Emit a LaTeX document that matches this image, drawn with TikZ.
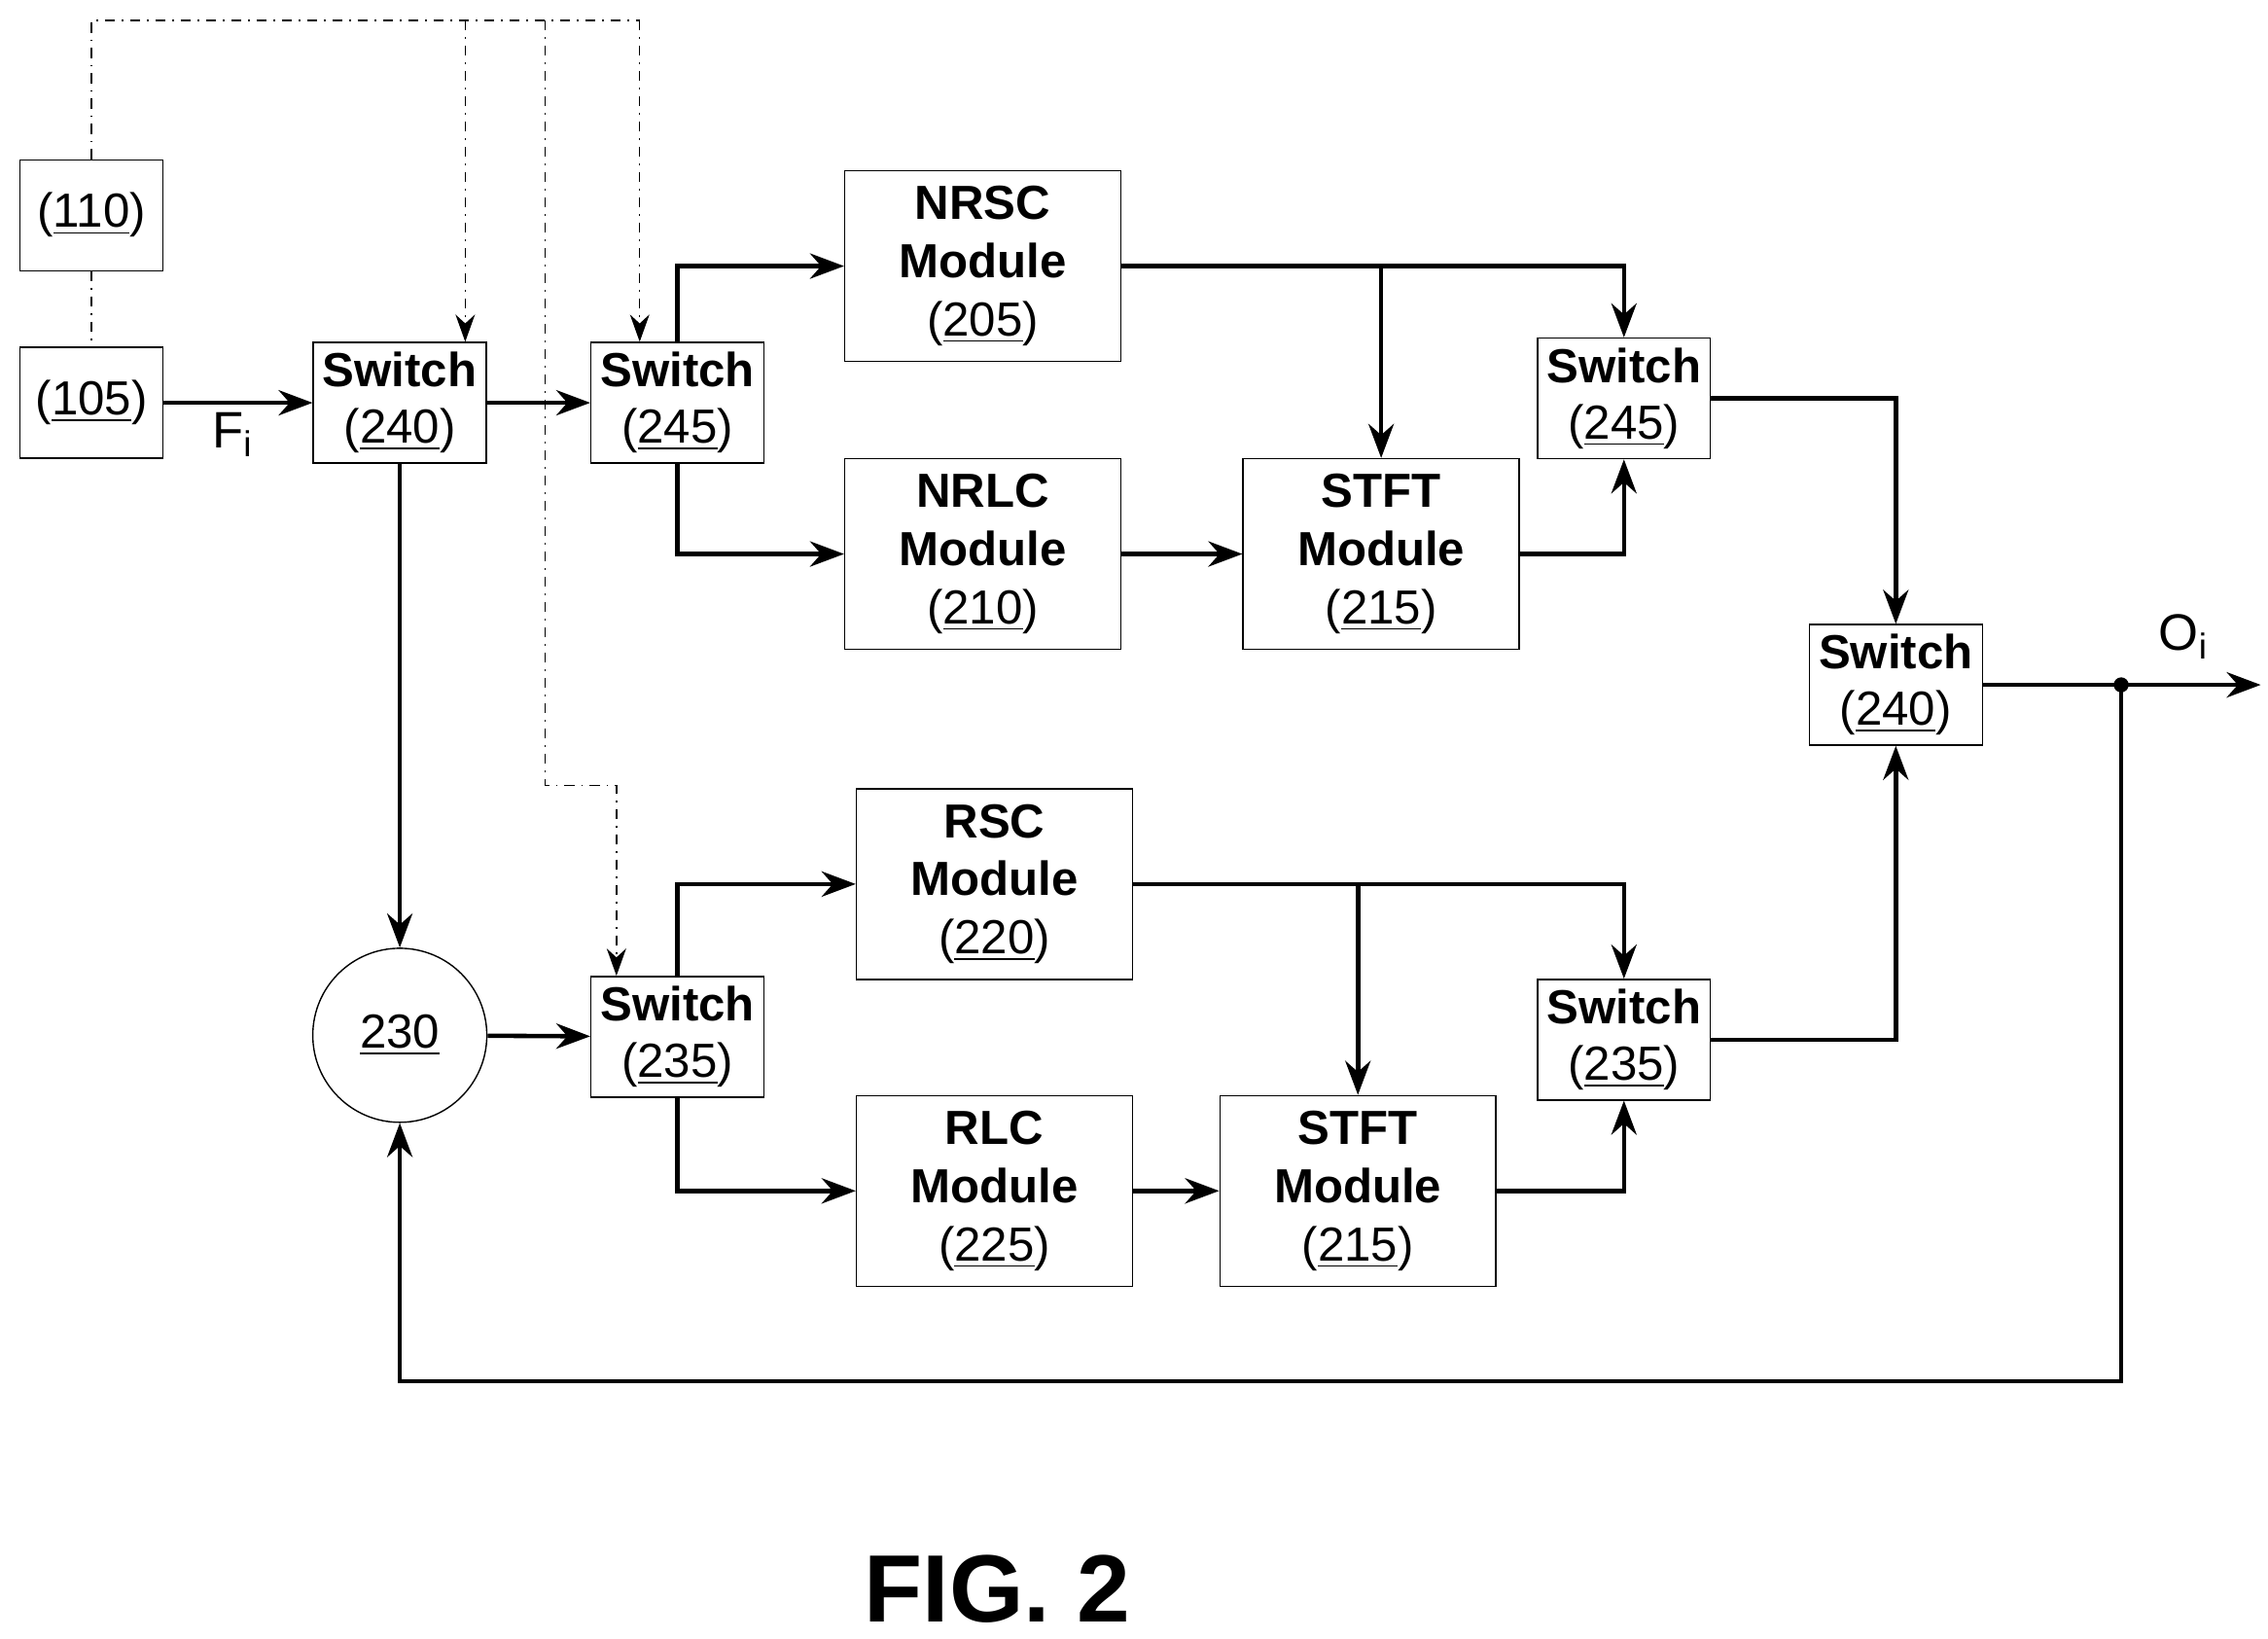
\documentclass[tikz,border=0pt]{standalone}
\usepackage{fontspec}
\setmainfont{Liberation Sans}
\usetikzlibrary{arrows.meta, calc}
\tikzstyle{switch} = [rectangle, draw=black, thin, minimum width=1.78cm, minimum height=1.24cm, inner sep=0pt, align=center, font=\fontsize{14}{16.5}\selectfont]
\tikzstyle{module} = [rectangle, draw=black, thin, minimum width=2.84cm, minimum height=1.96cm, inner sep=0pt, align=center, font=\fontsize{14}{17}\selectfont]
\tikzstyle{src} = [rectangle, draw=black, thin, minimum width=1.47cm, minimum height=1.14cm, inner sep=0pt, font=\fontsize{14}{16}\selectfont]
\tikzstyle{arrow} = [line width=1.3pt, -{Stealth[length=3.5mm, width=2.6mm]}]
\tikzstyle{line} = [line width=1.3pt]
\tikzstyle{ctrl} = [thin, dash dot]
\tikzstyle{carrow} = [thin, dash dot, -{Stealth[length=2.8mm, width=2mm]}]
\begin{document}
\begin{tikzpicture}[x=0.01495cm, y=-0.01495cm]
    \useasboundingbox (0,0) rectangle (1560,1127);
    \node (src110) [src] at (63,148) {(\underline{110})};
    \node (src105) [src] at (63,277) {(\underline{105})};
    \node (sw240a) [switch] at (275,277) {\textbf{Switch}\\(\underline{240})};
    \node (sw245a) [switch] at (466,277) {\textbf{Switch}\\(\underline{245})};
    \node (nrsc) [module] at (676,183) {\textbf{NRSC}\\\textbf{Module}\\(\underline{205})};
    \node (nrlc) [module] at (676,381) {\textbf{NRLC}\\\textbf{Module}\\(\underline{210})};
    \node (stfta) [module] at (950,381) {\textbf{STFT}\\\textbf{Module}\\(\underline{215})};
    \node (sw245b) [switch] at (1117,274) {\textbf{Switch}\\(\underline{245})};
    \node (sw240b) [switch] at (1304,471) {\textbf{Switch}\\(\underline{240})};
    \node (comb) [circle, draw=black, thin, minimum size=1.79cm, inner sep=0pt, font=\fontsize{14}{16}\selectfont] at (275,712) {\underline{230}};
    \node (sw235a) [switch] at (466,713) {\textbf{Switch}\\(\underline{235})};
    \node (rsc) [module] at (684,608) {\textbf{RSC}\\\textbf{Module}\\(\underline{220})};
    \node (rlc) [module] at (684,819) {\textbf{RLC}\\\textbf{Module}\\(\underline{225})};
    \node (stftb) [module] at (934,819) {\textbf{STFT}\\\textbf{Module}\\(\underline{215})};
    \node (sw235b) [switch] at (1117,715) {\textbf{Switch}\\(\underline{235})};
    \node (fig) [font=\fontsize{28}{32}\selectfont\bfseries] at (686,1093) {FIG. 2};
    \node (fi) [font=\fontsize{15}{16}\selectfont] at (160,299) {F\textsubscript{i}};
    \node (oi) [font=\fontsize{15}{16}\selectfont] at (1502,438) {O\textsubscript{i}};
    \coordinate (tap) at (1459,471);
    \coordinate (out) at (1555,471);

    % control lines
    \draw [ctrl] (src110) -- (src105);
    \draw [ctrl] (src110.north) -- (63,14) -- (440,14);
    \draw [carrow] (320,14) -- (sw240a.north -| 320,0);
    \draw [carrow] (440,14) -- (sw245a.north -| 440,0);
    \draw [carrow] (375,14) -- (375,540) -- (424,540) -- (sw235a.north -| 424,0);

    % upper path
    \draw [arrow] (src105) -- (sw240a);
    \draw [arrow] (sw240a) -- (sw245a);
    \draw [arrow] (sw245a.north) |- (nrsc.west);
    \draw [arrow] (sw245a.south) |- (nrlc.west);
    \draw [arrow] (nrsc.east) -| (sw245b.north);
    \draw [arrow] (nrsc.east -| stfta.north) -- (stfta.north);
    \draw [arrow] (nrlc) -- (stfta);
    \draw [arrow] (stfta.east) -| (sw245b.south);
    \draw [arrow] (sw245b.east) -| (sw240b.north);

    % lower path
    \draw [arrow] (sw240a) -- (comb);
    \draw [arrow] (comb) -- (sw235a);
    \draw [arrow] (sw235a.north) |- (rsc.west);
    \draw [arrow] (sw235a.south) |- (rlc.west);
    \draw [arrow] (rsc.east) -| (sw235b.north);
    \draw [arrow] (rsc.east -| stftb.north) -- (stftb.north);
    \draw [arrow] (rlc) -- (stftb);
    \draw [arrow] (stftb.east) -| (sw235b.south);
    \draw [arrow] (sw235b.east) -| (sw240b.south);

    % output and feedback
    \draw [arrow] (sw240b.east) -- (out);
    \fill (tap) circle (2.2pt);
    \draw [arrow] (tap) -- (1459,950) -| (comb.south);
\end{tikzpicture}
\end{document}
